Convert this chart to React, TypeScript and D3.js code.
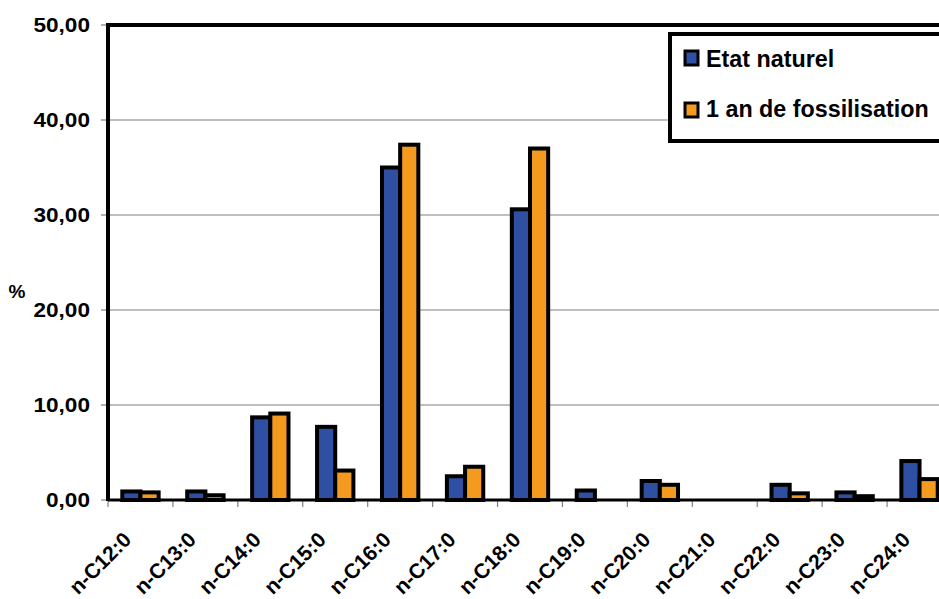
import React from "react";
import * as d3 from "d3";

const categories = ["n-C12:0","n-C13:0","n-C14:0","n-C15:0","n-C16:0","n-C17:0","n-C18:0","n-C19:0","n-C20:0","n-C21:0","n-C22:0","n-C23:0","n-C24:0"];
const etatNaturel = [0.9, 0.9, 8.7, 7.7, 35.0, 2.5, 30.6, 1.0, 2.0, 0, 1.6, 0.8, 4.1];
const fossilisation = [0.8, 0.5, 9.1, 3.1, 37.4, 3.5, 37.0, 0, 1.6, 0, 0.7, 0.4, 2.2];
const seriesNames = ["Etat naturel", "1 an de fossilisation"];
const yTicks = [0, 10, 20, 30, 40, 50];

const W = 939, H = 599;
const left = 108, right = 952, top = 25, bottom = 500;
const colors = ["#2E4FA2", "#F49B1F"];
const font = "'Liberation Sans', Arial, sans-serif";

export default function App() {
  const x = d3.scaleBand<string>().domain(categories).range([left, right]).paddingInner(0).paddingOuter(0);
  const y = d3.scaleLinear().domain([0, 50]).range([bottom, top]);
  const bw = x.bandwidth();
  const barW = bw * 0.28;
  const series = [etatNaturel, fossilisation];
  const fmt = (v: number) => v.toFixed(2).replace(".", ",");
  return (
    <svg width={W} height={H} style={{ position: "absolute", left: 0, top: 0, background: "#fff" }} fontFamily={font}>
      {yTicks.filter(t => t > 0 && t < 50).map(t => (
        <line key={"g" + t} x1={left} x2={W} y1={y(t)} y2={y(t)} stroke="#808080" strokeWidth={1.2} />
      ))}
      {yTicks.map(t => (
        <g key={"t" + t}>
          <line x1={left - 7} x2={left} y1={y(t)} y2={y(t)} stroke="#808080" strokeWidth={1.2} />
          <text transform={`translate(${left - 18},${y(t) + 7}) scale(1.13,1)`} textAnchor="end" fontSize={20} fontWeight="bold">{fmt(t)}</text>
        </g>
      ))}
      <text x={17} y={298} textAnchor="middle" fontSize={19} fontWeight="bold">%</text>
      {categories.map((c) => (
        <line key={"xt" + c} x1={x(c)!} x2={x(c)!} y1={bottom} y2={bottom + 7} stroke="#808080" strokeWidth={1.2} />
      ))}
      {series.map((vals, s) =>
        categories.map((c, i) => {
          const x0 = x(c)! + (bw - 2 * barW) / 2 + s * barW;
          return (
            <rect key={s + c} x={x0} y={y(vals[i])} width={barW} height={y(0) - y(vals[i])}
              fill={colors[s]} stroke="#000" strokeWidth={4} />
          );
        })
      )}
      <line x1={left} x2={W} y1={bottom} y2={bottom} stroke="#000" strokeWidth={3} />
      <line x1={left} x2={W} y1={top} y2={top} stroke="#000" strokeWidth={4} />
      <line x1={left} x2={left} y1={top - 2} y2={bottom + 1} stroke="#000" strokeWidth={4} />
      {categories.map((c) => {
        const cx = x(c)! + bw / 2 - 8;
        return (
          <text key={"l" + c} transform={`translate(${cx},${bottom + 41}) rotate(-45)`} textAnchor="end" fontSize={21} fontWeight="bold">{c}</text>
        );
      })}
      <rect x={670} y={34} width={290} height={107} fill="#fff" stroke="#000" strokeWidth={4} />
      {seriesNames.map((n, i) => (
        <g key={n}>
          <rect x={685} y={51 + i * 52} width={13} height={14} fill={colors[i]} stroke="#000" strokeWidth={3} />
          <text x={706} y={67 + i * 50} fontSize={23.3} fontWeight="bold">{n}</text>
        </g>
      ))}
    </svg>
  );
}
